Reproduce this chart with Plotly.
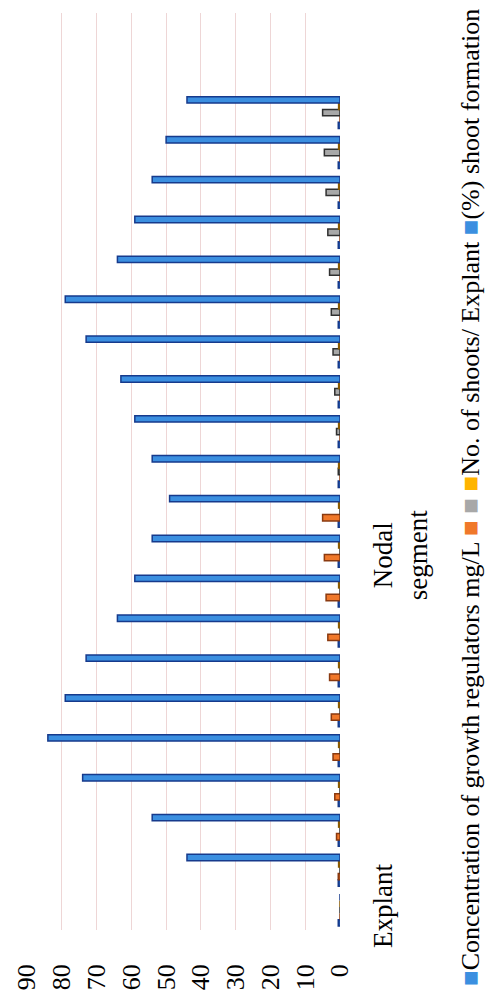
import plotly.graph_objects as go

# Category slots along the category axis (0 = "Explant" header row, 1-20 = nodal segment treatments, 21-22 empty)
slots = list(range(23))

# Series values per slot
growth_reg = [0.5] * 21 + [None, None]
bap = [0, 0.5, 1.0, 1.5, 2.0, 2.5, 3.0, 3.5, 4.0, 4.5, 5.0,
       0, 0, 0, 0, 0, 0, 0, 0, 0, 0, None, None]
kin = [0, 0, 0, 0, 0, 0, 0, 0, 0, 0, 0,
       0.5, 1.0, 1.5, 2.0, 2.5, 3.0, 3.5, 4.0, 4.5, 5.0, None, None]
shoots_per_explant = [0] + [0.4] * 20 + [None, None]
shoot_formation = [0, 44, 54, 74, 84, 79, 73, 64, 59, 54, 49,
                   54, 59, 63, 73, 79, 64, 59, 54, 50, 44, None, None]

series = [
    ("Concentration of growth regulators mg/L", growth_reg, "#3b8fe0", "#163a8c"),
    (" ", bap, "#f0782a", "#8a3a10"),
    ("  ", kin, "#a8a8a8", "#303030"),
    ("No. of shoots/ Explant", shoots_per_explant, "#ffb400", "#8a5a00"),
    ("(%) shoot formation", shoot_formation, "#3b8fe0", "#163a8c"),
]

value_ticks = [0, 10, 20, 30, 40, 50, 60, 70, 80, 90]
cat_tickvals = [0, 8.8]
cat_ticktext = ["Explant", "Nodal<br>segment"]

serif = "Liberation Serif"

fig = go.Figure()
for name, vals, fill, edge in series:
    fig.add_trace(go.Bar(
        y=slots, x=vals, name=name, orientation="h",
        marker=dict(color=fill, line=dict(color=edge, width=1.5)),
        showlegend=False,
    ))

fig.update_layout(
    width=487, height=1004,
    margin=dict(l=17, r=147, t=13, b=74),
    paper_bgcolor="white", plot_bgcolor="white",
    barmode="group", bargap=0.2, bargroupgap=0,
    font=dict(family=serif, size=25, color="black"),
)
fig.update_xaxes(
    range=[90, 0], tickvals=value_ticks, tickangle=-90,
    showgrid=True, gridcolor="#eed6d6", gridwidth=1,
    zeroline=False, showline=False, ticks="", ticklabelstandoff=28,
    tickfont=dict(family=serif, size=26),
)
fig.update_yaxes(
    range=[-0.5, 22.5], side="right", tickvals=cat_tickvals, ticktext=cat_ticktext,
    tickangle=-90, showgrid=False, zeroline=False, showline=False, ticks="",
    ticklabelstandoff=24, tickfont=dict(family=serif, size=27),
)

# Legend line drawn along the right edge, reading bottom to top
sq = "\u25A0"
legend_text = (
    f"<span style='color:#3b8fe0'>{sq}</span>Concentration of growth regulators mg/L "
    f"<span style='color:#f0782a'>{sq}</span> "
    f"<span style='color:#a8a8a8'>{sq}</span> "
    f"<span style='color:#ffb400'>{sq}</span>No. of shoots/ Explant "
    f"<span style='color:#3b8fe0'>{sq}</span>(%) shoot formation"
)
fig.add_annotation(
    x=1.415, y=0.472, xref="paper", yref="paper", text=legend_text,
    textangle=-90, showarrow=False, font=dict(family=serif, size=26, color="black"),
    xanchor="center", yanchor="middle",
)

fig.write_html("out.html")
